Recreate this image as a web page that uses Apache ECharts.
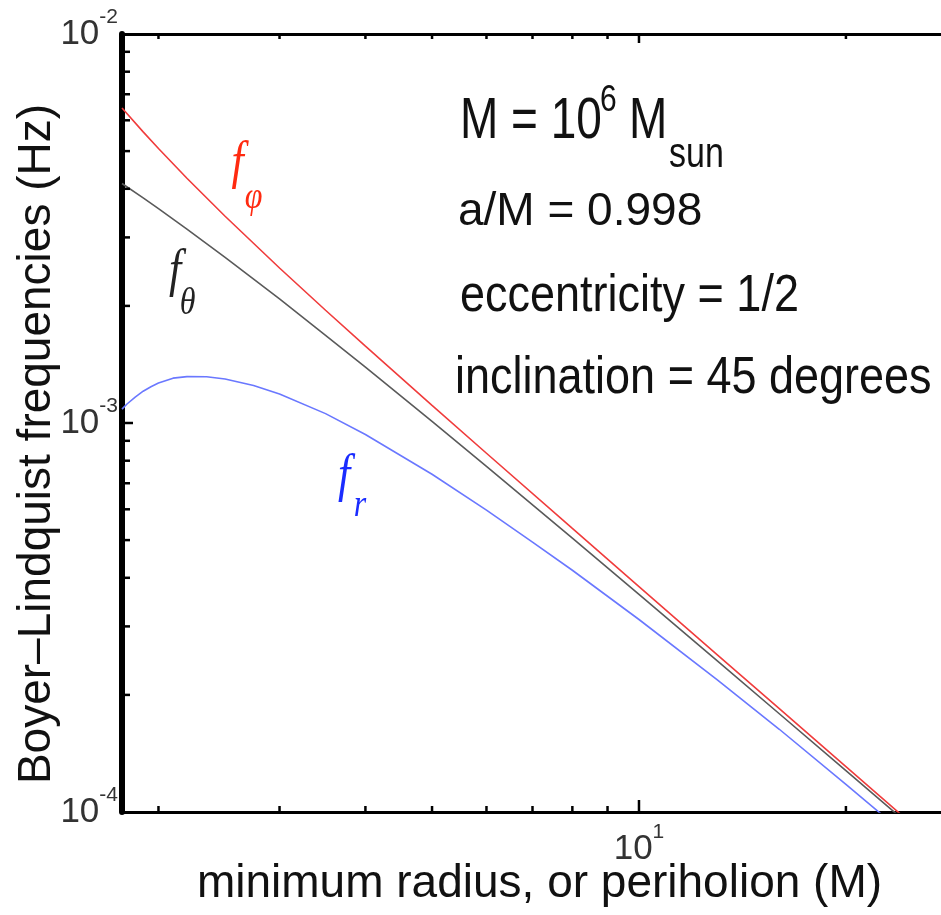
<!DOCTYPE html>
<html><head><meta charset="utf-8">
<script src="https://cdn.jsdelivr.net/npm/echarts@6/dist/echarts.min.js"></script>
<style>html,body{margin:0;padding:0;background:#fff}#chart{width:941px;height:915px}</style>
</head><body><div id="chart"></div>
<script>
// ---- data ----
const radius = [1.77, 1.9, 2.0, 2.2, 2.5, 3, 3.5, 4, 5, 6, 8, 10, 13, 16, 20, 25];
const fPhi   = [6.451e-3, 5.602e-3, 5.078e-3, 4.257e-3, 3.400e-3, 2.503e-3, 1.949e-3, 1.576e-3, 1.110e-3, 8.360e-4, 5.357e-4, 3.798e-4, 2.536e-4, 1.843e-4, 1.308e-4, 9.279e-5];
const fTheta = [4.127e-3, 3.789e-3, 3.556e-3, 3.151e-3, 2.666e-3, 2.084e-3, 1.681e-3, 1.392e-3, 1.0095e-3, 7.735e-4, 5.056e-4, 3.624e-4, 2.445e-4, 1.789e-4, 1.277e-4, 9.113e-5];
const radiusR = [1.77, 1.8, 1.85, 1.9, 1.95, 2.0, 2.1, 2.2, 2.35, 2.5, 2.75, 3, 3.5, 4, 5, 6, 7, 8, 10, 13, 16, 20, 25];
const fR      = [1.086e-3, 1.119e-3, 1.166e-3, 1.207e-3, 1.239e-3, 1.267e-3, 1.304e-3, 1.316e-3, 1.315e-3, 1.298e-3, 1.248e-3, 1.188e-3, 1.057e-3, 9.344e-4, 7.383e-4, 5.970e-4, 4.939e-4, 4.183e-4, 3.125e-4, 2.187e-4, 1.632e-4, 1.177e-4, 8.456e-5];
const xTicks = [10];
const xTickLabels = ['10^1'];
const yTicks = [1e-4, 1e-3, 1e-2];
const yTickLabels = ['10^-4', '10^-3', '10^-2'];
const xMinorTicks = [2, 3, 4, 5, 6, 7, 8, 9, 20];
const yMinorTicks = [2e-4, 3e-4, 4e-4, 5e-4, 6e-4, 7e-4, 8e-4, 9e-4, 2e-3, 3e-3, 4e-3, 5e-3, 6e-3, 7e-3, 8e-3, 9e-3];
const xRange = [1.77, 27.5];
const yRange = [1e-4, 1e-2];

// ---- helpers ----
function labelFormatter(ticks, labels) {
  return function (v) {
    const i = ticks.findIndex(t => Math.abs(Math.log10(t) - Math.log10(v)) < 1e-6);
    if (i < 0) return '';
    const parts = labels[i].split('^');
    return '{a|' + parts[0] + '}{b|' + parts[1] + '}';
  };
}
const labelRich = {
  a: { fontSize: 35, lineHeight: 54, fontFamily: 'Liberation Sans', color: '#333' },
  b: { fontSize: 21, lineHeight: 20, verticalAlign: 'top', fontFamily: 'Liberation Sans', color: '#333' }
};
const tickStyle = { stroke: '#000', lineWidth: 2.5 };

function xTickRender(params, api) {
  const v = api.value(0);
  const major = xTicks.indexOf(v) >= 0;
  const b = api.coord([v, yRange[0]]);
  const t = api.coord([v, yRange[1]]);
  const lb = major ? 12 : 6, lt = major ? 9 : 5;
  return { type: 'group', children: [
    { type: 'line', shape: { x1: b[0], y1: b[1], x2: b[0], y2: b[1] - lb }, style: tickStyle },
    { type: 'line', shape: { x1: t[0], y1: t[1], x2: t[0], y2: t[1] + lt }, style: tickStyle }
  ]};
}
function yTickRender(params, api) {
  const v = api.value(1);
  const major = yTicks.indexOf(v) >= 0;
  const p = api.coord([xRange[0], v]);
  const l = major ? 11 : 8;
  return { type: 'line', shape: { x1: p[0], y1: p[1], x2: p[0] + l, y2: p[1] }, style: tickStyle };
}

function txt(text, x, y, font, fill, sy, align) {
  return { type: 'text', x: x, y: y, scaleY: sy || 1, silent: true,
    style: { text: text, font: font, fill: fill,
      align: align || 'left', textAlign: align || 'left',
      verticalAlign: 'middle', textVerticalAlign: 'middle' } };
}
const sans = '"Liberation Sans"';
const fItalic = 'italic 44px "Liberation Serif"';
const subItalic = 'italic 32px "Liberation Serif"';

const chart = echarts.init(document.getElementById('chart'), null, { renderer: 'canvas' });
chart.setOption({
  animation: false,
  backgroundColor: '#fff',
  textStyle: { fontFamily: 'Liberation Sans' },
  grid: { left: 122, right: 0, top: 34, bottom: 103, containLabel: false, outerBoundsMode: 'none' },
  xAxis: [{
    type: 'log', logBase: 10, min: xRange[0], max: xRange[1],
    axisLine: { show: true, lineStyle: { color: '#000', width: 3 } },
    axisTick: { show: false }, splitLine: { show: false }, minorTick: { show: false },
    axisLabel: { show: true, margin: 10, formatter: labelFormatter(xTicks, xTickLabels), rich: labelRich },
    name: 'minimum radius, or periholion (M)', nameLocation: 'middle', nameGap: 49, nameMoveOverlap: false,
    nameTextStyle: { fontSize: 46, fontFamily: 'Liberation Sans', color: '#111', padding: [0, 0, 0, 16] }
  }, {
    type: 'log', logBase: 10, min: xRange[0], max: xRange[1], position: 'top',
    axisLine: { show: true, lineStyle: { color: '#000', width: 3 } },
    axisTick: { show: false }, axisLabel: { show: false }, splitLine: { show: false }
  }],
  yAxis: [{
    type: 'log', logBase: 10, min: yRange[0], max: yRange[1],
    axisLine: { show: true, lineStyle: { color: '#000', width: 6 } },
    axisTick: { show: false }, splitLine: { show: false }, minorTick: { show: false },
    axisLabel: { show: true, margin: 4, formatter: labelFormatter(yTicks, yTickLabels), rich: labelRich },
    name: 'Boyer\u2013Lindquist frequencies (Hz)', nameLocation: 'middle', nameGap: 62, nameRotate: 90, nameMoveOverlap: false,
    nameTextStyle: { fontSize: 46, fontFamily: 'Liberation Sans', color: '#111', padding: [0, 42, 0, 0] }
  }],
  series: [
    { name: 'f_phi', type: 'line', data: radius.map((r, i) => [r, fPhi[i]]), showSymbol: false, symbol: 'none',
      smooth: false, clip: true, lineStyle: { color: '#f03c3c', width: 1.6 }, z: 3 },
    { name: 'f_theta', type: 'line', data: radius.map((r, i) => [r, fTheta[i]]), showSymbol: false, symbol: 'none',
      smooth: false, clip: true, lineStyle: { color: '#5a5a5a', width: 1.6 }, z: 2 },
    { name: 'f_r', type: 'line', data: radiusR.map((r, i) => [r, fR[i]]), showSymbol: false, symbol: 'none',
      smooth: false, clip: true, lineStyle: { color: '#6a78ff', width: 1.6 }, z: 2 },
    { type: 'custom', silent: true, renderItem: xTickRender, encode: { x: 0, y: 1 },
      data: xMinorTicks.concat(xTicks).map(v => [v, yRange[0]]), z: 5 },
    { type: 'custom', silent: true, renderItem: yTickRender, encode: { x: 0, y: 1 },
      data: yMinorTicks.concat([1e-3]).map(v => [xRange[0], v]), z: 5 }
  ],
  graphic: [
    txt('M = 10', 460, 122.5, 'normal 46px ' + sans, '#111', 1.25),
    txt('6', 600, 101, 'normal 30px ' + sans, '#111', 1.25),
    txt('M', 629, 122.5, 'normal 46px ' + sans, '#111', 1.25),
    txt('sun', 669, 155.7, 'normal 34px ' + sans, '#111', 1.25),
    txt('a/M = 0.998', 458, 212, 'normal 46px ' + sans, '#111', 1),
    txt('eccentricity = 1/2', 460, 296.7, 'normal 45px ' + sans, '#111', 1.15),
    txt('inclination = 45 degrees', 455, 378.7, 'normal 45px ' + sans, '#111', 1.15),
    txt('f', 237.5, 163.7, fItalic, '#ff2a10', 1.2, 'center'),
    txt('\u03c6', 253.5, 198.4, subItalic, '#ff2a10', 1.2, 'center'),
    txt('f', 175, 272.2, fItalic, '#222', 1.2, 'center'),
    txt('\u03b8', 187.5, 304, subItalic, '#222', 1.2, 'center'),
    txt('f', 344, 476.7, fItalic, '#1a2cff', 1.2, 'center'),
    txt('r', 360, 505.7, subItalic, '#1a2cff', 1.2, 'center')
  ]
});
</script>
</body></html>
